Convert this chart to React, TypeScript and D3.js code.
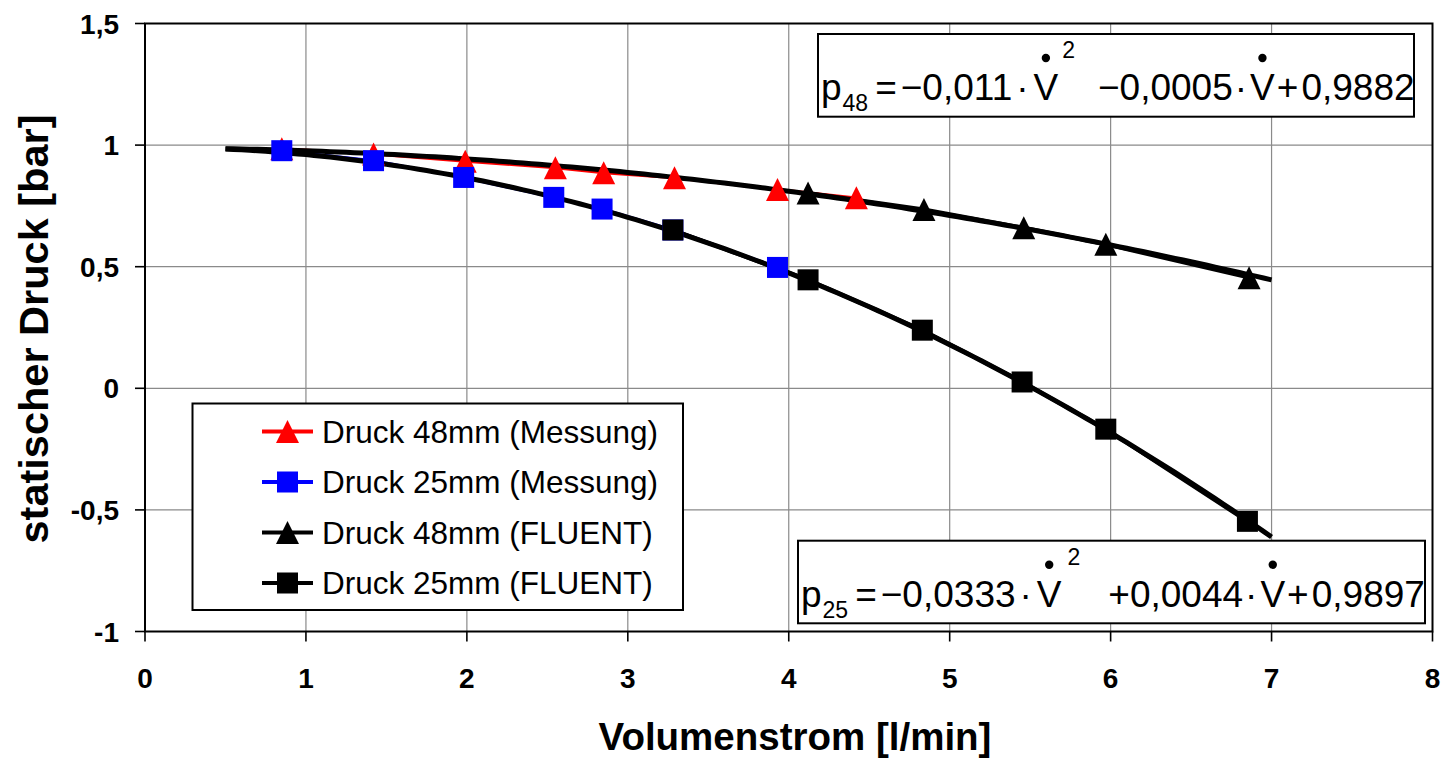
import { scaleLinear, line as d3line, range, formatLocale } from "d3";

// Volumenstrom [l/min] and statischer Druck [bar]
const vMess48 = [0.85, 1.42, 1.99, 2.55, 2.85, 3.29, 3.93, 4.42];
const pMess48 = [0.985, 0.963, 0.934, 0.907, 0.886, 0.866, 0.817, 0.783];

const vMess25 = [0.85, 1.42, 1.98, 2.54, 2.84, 3.28, 3.93];
const pMess25 = [0.977, 0.936, 0.867, 0.785, 0.737, 0.651, 0.497];

const vFluent48 = [4.12, 4.84, 5.46, 5.97, 6.86];
const pFluent48 = [0.803, 0.735, 0.66, 0.592, 0.455];

const vFluent25 = [3.28, 4.12, 4.83, 5.45, 5.97, 6.85];
const pFluent25 = [0.651, 0.446, 0.239, 0.026, -0.168, -0.547];

// polynomial trendlines, coefficients as printed in the boxes (a*V^2 + b*V + c)
const trend48 = [-0.011, -0.0005, 0.9882];
const trend25 = [-0.0333, 0.0044, 0.9897];
const trendRange = [0.5, 7];

const xTicks = [0, 1, 2, 3, 4, 5, 6, 7, 8];
const yTicks = [-1, -0.5, 0, 0.5, 1, 1.5];

const legendLabels = [
  "Druck 48mm (Messung)",
  "Druck 25mm (Messung)",
  "Druck 48mm (FLUENT)",
  "Druck 25mm (FLUENT)",
];

type Tok = { t: string; role?: "sub" | "sup"; dot?: boolean; gap?: number };

const eq48: Tok[] = [
  { t: "p" },
  { t: "48", role: "sub", gap: 1 },
  { t: "=", gap: 7 },
  { t: "\u22120,011", gap: 4 },
  { t: "\u00b7", gap: 4 },
  { t: "V", dot: true, gap: 5 },
  { t: "2", role: "sup", gap: 4 },
  { t: "\u22120,0005", gap: 23 },
  { t: "\u00b7", gap: 2 },
  { t: "V", dot: true, gap: 3 },
  { t: "+", gap: 2 },
  { t: "0,9882", gap: 3 },
];

const eq25: Tok[] = [
  { t: "p" },
  { t: "25", role: "sub", gap: 1 },
  { t: "=", gap: 7 },
  { t: "\u22120,0333", gap: 4 },
  { t: "\u00b7", gap: 4 },
  { t: "V", dot: true, gap: 5 },
  { t: "2", role: "sup", gap: 6 },
  { t: "+0,0044", gap: 28 },
  { t: "\u00b7", gap: 2 },
  { t: "V", dot: true, gap: 3 },
  { t: "+", gap: 2 },
  { t: "0,9897", gap: 3 },
];

const FONT = '"Liberation Sans", Arial, Helvetica, sans-serif';
const W = 1441;
const H = 759;

const x = scaleLinear().domain([0, 8]).range([145, 1432.5]);
const y = scaleLinear().domain([-1, 1.5]).range([631.5, 23.5]);

const fmt = formatLocale({
  decimal: ",",
  thousands: ".",
  grouping: [3],
  currency: ["", " €"],
  minus: "-",
}).format("~g");

const ctx = typeof document !== "undefined" ? document.createElement("canvas").getContext("2d") : null;
function textWidth(s: string, size: number) {
  if (!ctx) return s.length * size * 0.556;
  ctx.font = `${size}px ${FONT}`;
  return ctx.measureText(s).width;
}

type Pt = { v: number; p: number };
const zip = (vs: number[], ps: number[]): Pt[] => vs.map((v, i) => ({ v, p: ps[i] }));

const mess48 = zip(vMess48, pMess48);
const mess25 = zip(vMess25, pMess25);
const fluent48 = zip(vFluent48, pFluent48);
const fluent25 = zip(vFluent25, pFluent25);

const lineGen = d3line<Pt>()
  .x((d) => x(d.v))
  .y((d) => y(d.p));

function trendPath(c: number[]) {
  const pts = range(trendRange[0], trendRange[1] + 0.001, 0.05).map((v) => ({
    v,
    p: c[0] * v * v + c[1] * v + c[2],
  }));
  return lineGen(pts) ?? "";
}

const TRI_W = 23;
const TRI_H = 23;
const SQ = 21;

function Triangle({ cx, cy, fill }: { cx: number; cy: number; fill: string }) {
  const d = `M${cx},${cy - TRI_H / 2}L${cx + TRI_W / 2},${cy + TRI_H / 2}L${cx - TRI_W / 2},${cy + TRI_H / 2}Z`;
  return <path d={d} fill={fill} />;
}

function Square({ cx, cy, fill }: { cx: number; cy: number; fill: string }) {
  return <rect x={cx - SQ / 2} y={cy - SQ / 2} width={SQ} height={SQ} fill={fill} />;
}

const EQ_SIZE = 37;
const EQ_SMALL = 23;

function Equation({ box, tokens }: { box: number[]; tokens: Tok[] }) {
  const [x0, y0, x1, y1] = box;
  const base = y0 + 66;
  let cx = x0 + 3;
  const items: any[] = [];
  tokens.forEach((tk, i) => {
    cx += tk.gap ?? 0;
    const size = tk.role ? EQ_SMALL : EQ_SIZE;
    const w = textWidth(tk.t, size);
    const ty = tk.role === "sub" ? base + 11 : tk.role === "sup" ? y0 + 24 : base;
    items.push(
      <text key={"t" + i} x={cx} y={ty} fontSize={size}>
        {tk.t}
      </text>
    );
    if (tk.dot) items.push(<circle key={"d" + i} cx={cx + w / 2} cy={y0 + 24} r={4.2} fill="#000" />);
    cx += w;
  });
  return (
    <g fontFamily={FONT} fill="#000">
      <rect x={x0} y={y0} width={x1 - x0} height={y1 - y0} fill="#fff" stroke="#000" strokeWidth={2} />
      {items}
    </g>
  );
}

export default function App() {
  const left = x(0);
  const right = x(8);
  const top = y(1.5);
  const bottom = y(-1);

  const legendX = 192.5;
  const legendY = 403.5;
  const rowY = (i: number) => 431.5 + i * 50.5;
  const legendStyles = [
    { color: "#ff0000", marker: "tri" },
    { color: "#0000ff", marker: "sq" },
    { color: "#000000", marker: "tri" },
    { color: "#000000", marker: "sq" },
  ];

  return (
    <div style={{ position: "absolute", left: 0, top: 0 }}>
      <svg width={W} height={H} viewBox={`0 0 ${W} ${H}`} style={{ display: "block", background: "#fff" }}>
        <rect x={0} y={0} width={W} height={H} fill="#fff" />

        {/* grid */}
        <g stroke="#8a8a8a" strokeWidth={1.2}>
          {xTicks.slice(1, -1).map((t) => (
            <line key={"gx" + t} x1={x(t)} x2={x(t)} y1={top} y2={bottom} />
          ))}
          {yTicks.slice(1, -1).map((t) => (
            <line key={"gy" + t} x1={left} x2={right} y1={y(t)} y2={y(t)} />
          ))}
        </g>

        {/* plot frame and ticks */}
        <rect x={left} y={top} width={right - left} height={bottom - top} fill="none" stroke="#000" strokeWidth={2} />
        <g stroke="#000" strokeWidth={1.6}>
          {xTicks.map((t) => (
            <line key={"tx" + t} x1={x(t)} x2={x(t)} y1={bottom} y2={bottom + 10} />
          ))}
          {yTicks.map((t) => (
            <line key={"ty" + t} x1={left - 10} x2={left} y1={y(t)} y2={y(t)} />
          ))}
        </g>

        {/* measured lines */}
        <path d={lineGen(mess48) ?? ""} fill="none" stroke="#ff0000" strokeWidth={3} />
        <path d={lineGen(mess25) ?? ""} fill="none" stroke="#0000ff" strokeWidth={3} />

        {/* trendlines */}
        <path d={trendPath(trend48)} fill="none" stroke="#000" strokeWidth={5} />
        <path d={trendPath(trend25)} fill="none" stroke="#000" strokeWidth={5} />

        {/* FLUENT lines */}
        <path d={lineGen(fluent48) ?? ""} fill="none" stroke="#000" strokeWidth={4} />
        <path d={lineGen(fluent25) ?? ""} fill="none" stroke="#000" strokeWidth={4} />

        {/* markers */}
        {mess48.map((d, i) => (
          <Triangle key={"m48" + i} cx={x(d.v)} cy={y(d.p)} fill="#ff0000" />
        ))}
        {mess25.map((d, i) => (
          <Square key={"m25" + i} cx={x(d.v)} cy={y(d.p)} fill="#0000ff" />
        ))}
        {fluent48.map((d, i) => (
          <Triangle key={"f48" + i} cx={x(d.v)} cy={y(d.p)} fill="#000" />
        ))}
        {fluent25.map((d, i) => (
          <Square key={"f25" + i} cx={x(d.v)} cy={y(d.p)} fill="#000" />
        ))}

        {/* legend */}
        <rect x={legendX} y={legendY} width={683 - legendX} height={610 - legendY} fill="#fff" stroke="#000" strokeWidth={2} />
        {legendLabels.map((label, i) => {
          const s = legendStyles[i];
          const cy = rowY(i);
          return (
            <g key={"lg" + i}>
              <line x1={262} x2={313} y1={cy} y2={cy} stroke={s.color} strokeWidth={4} />
              {s.marker === "tri" ? (
                <Triangle cx={287.5} cy={cy} fill={s.color} />
              ) : (
                <Square cx={287.5} cy={cy} fill={s.color} />
              )}
              <text x={322} y={cy + 11} fontFamily={FONT} fontSize={31.5} fill="#000">
                {label}
              </text>
            </g>
          );
        })}

        {/* trendline equations */}
        <Equation box={[818, 34, 1414, 116.7]} tokens={eq48} />
        <Equation box={[798, 540.7, 1425, 623.3]} tokens={eq25} />

        {/* tick labels */}
        <g fontFamily={FONT} fontWeight="bold" fontSize={28} fill="#000">
          {xTicks.map((t) => (
            <text key={"lx" + t} x={x(t)} y={688} textAnchor="middle">
              {fmt(t)}
            </text>
          ))}
          {yTicks.map((t) => (
            <text key={"ly" + t} x={119} y={y(t) + 10} textAnchor="end">
              {fmt(t)}
            </text>
          ))}
        </g>

        {/* axis titles */}
        <text x={795} y={750} textAnchor="middle" fontFamily={FONT} fontWeight="bold" fontSize={38.5} fill="#000">
          Volumenstrom [l/min]
        </text>
        <text
          transform="translate(48,329) rotate(-90)"
          textAnchor="middle"
          fontFamily={FONT}
          fontWeight="bold"
          fontSize={41.5}
          fill="#000"
        >
          statischer Druck [bar]
        </text>
      </svg>
    </div>
  );
}
